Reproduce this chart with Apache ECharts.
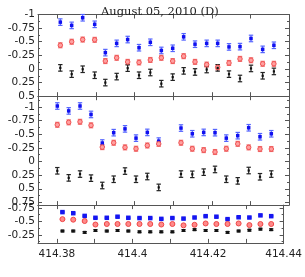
<!DOCTYPE html>
<html><head><meta charset="utf-8">
<script src="https://cdn.jsdelivr.net/npm/echarts@6/dist/echarts.min.js"></script>
<style>html,body{margin:0;padding:0;background:#fff}#c{width:305px;height:277px}</style>
</head><body><div id="c"></div>
<script>
// ---- data ----
const titleText = 'August 05, 2010 (D)';
const xTickValues = [414.38, 414.39, 414.40, 414.41, 414.42, 414.43, 414.44];
const xLabelValues = [414.38, 414.40, 414.42, 414.44];

// panel 1
const p1X = [414.38078,414.38372,414.38657,414.38968,414.39244,414.39537,414.39822,414.40116,414.40409,414.40694,414.40988,414.41272,414.41566,414.41868,414.42153,414.42446,414.42731,414.43016,414.43318,414.43609];
const p1Blue = [-0.86,-0.80,-0.94,-0.82,-0.30,-0.47,-0.54,-0.39,-0.49,-0.34,-0.38,-0.59,-0.455,-0.47,-0.47,-0.405,-0.41,-0.56,-0.36,-0.435];
const p1Red = [-0.435,-0.50,-0.54,-0.535,-0.145,-0.205,-0.13,-0.12,-0.165,-0.205,-0.145,-0.235,-0.13,-0.08,-0.03,-0.11,-0.185,-0.16,-0.095,-0.095];
const p1Black = [-0.02,0.095,0.005,0.115,0.25,0.14,-0.015,0.115,0.065,0.27,0.15,0.035,0.055,0.01,-0.02,0.095,0.175,-0.01,0.125,0.045];
// panel 2
const p2X = [414.38000,414.38295,414.38588,414.38873,414.39165,414.39460,414.39753,414.40038,414.40331,414.40626,414.41203,414.41496,414.41791,414.42084,414.42376,414.42672,414.42956,414.43249,414.43542];
const p2Blue = [-1.02,-0.93,-1.02,-0.865,-0.34,-0.53,-0.60,-0.43,-0.535,-0.375,-0.615,-0.51,-0.535,-0.53,-0.43,-0.475,-0.62,-0.455,-0.51];
const p2Red = [-0.675,-0.72,-0.73,-0.665,-0.265,-0.345,-0.26,-0.235,-0.295,-0.325,-0.345,-0.235,-0.21,-0.175,-0.235,-0.325,-0.26,-0.23,-0.23];
const p2Black = [0.17,0.30,0.23,0.305,0.44,0.325,0.175,0.325,0.275,0.475,0.23,0.235,0.195,0.145,0.325,0.355,0.165,0.28,0.23];
// panel 3
const p3X = [414.38147,414.38432,414.38735,414.39020,414.39321,414.39605,414.39890,414.40186,414.40470,414.40763,414.41056,414.41351,414.41643,414.41936,414.42221,414.42516,414.42809,414.43094,414.43386,414.43671];
const p3Blue = [-0.67,-0.65,-0.60,-0.565,-0.565,-0.585,-0.565,-0.56,-0.56,-0.545,-0.56,-0.55,-0.57,-0.595,-0.585,-0.54,-0.575,-0.57,-0.61,-0.595];
const p3Red = [-0.54,-0.53,-0.505,-0.44,-0.45,-0.45,-0.45,-0.45,-0.45,-0.44,-0.45,-0.425,-0.435,-0.46,-0.45,-0.45,-0.46,-0.43,-0.45,-0.45];
const p3Black = [-0.32,-0.32,-0.295,-0.33,-0.32,-0.33,-0.32,-0.305,-0.305,-0.305,-0.305,-0.33,-0.345,-0.33,-0.33,-0.295,-0.32,-0.335,-0.355,-0.345];
// error sizes (blue, red, black) per panel
const p1Err = [0.06, 0.045, 0.06];
const p2Err = [0.06, 0.045, 0.06];
const p3Err = [0.012, 0.012, 0.015];

// y-axis definitions
const p1YRange = [-1, 0.5];
const p1YLabels = [-1,-0.75,-0.5,-0.25,0,0.25,0.5];
const p1YMinor = [-0.875,-0.625,-0.375,-0.125,0.125,0.375];
const p2YRange = [-1.2, 0.8];
const p2YLabels = [-1,-0.75,-0.5,-0.25,0,0.25,0.5,0.75];
const p2YMinor = [-1.125,-0.875,-0.625,-0.375,-0.125,0.125,0.375,0.625];
const p3YRange = [-0.8, -0.1];
const p3YLabels = [-0.75,-0.5,-0.25];
const p3YMinor = [-0.625,-0.375,-0.125];

// ---- layout / style ----
const FONT = 'DejaVu Sans';
const frame = '#555';
const LEFT = 38, RIGHT = 16;
const grids = [
  {top: 14.5, height: 81.7},
  {top: 96.2, height: 108.9},
  {top: 205.1, height: 37.8}
];
const panels = [
  {x: p1X, s: [p1Blue, p1Red, p1Black], err: p1Err, yr: p1YRange, yl: p1YLabels, ym: p1YMinor},
  {x: p2X, s: [p2Blue, p2Red, p2Black], err: p2Err, yr: p2YRange, yl: p2YLabels, ym: p2YMinor},
  {x: p3X, s: [p3Blue, p3Red, p3Black], err: p3Err, yr: p3YRange, yl: p3YLabels, ym: p3YMinor}
];
const styles = [
  {sym: 'rect', size: 3.5, fill: '#1010f0', stroke: '#1010f0', bar: '#5565ff'},
  {sym: 'circle', size: 4.5, fill: '#ffa0a0', stroke: '#f05050', bar: '#f07070'},
  {sym: 'rect', size: 2.2, fill: '#111', stroke: '#111', bar: '#222'}
];
const styles3 = [
  {sym: 'rect', size: 4.5, fill: '#1515f0', stroke: '#1515f0', bar: '#5565ff'},
  {sym: 'circle', size: 5, fill: '#ff8a8a', stroke: '#f04848', bar: '#f07070'},
  {sym: 'rect', size: 3, fill: '#111', stroke: '#111', bar: '#222'}
];

const fmtX = v => String(parseFloat(v.toFixed(2)));
const fmtY = v => String(parseFloat(v.toFixed(2)));

const gridOpt = [], xAxes = [], yAxes = [], series = [];
panels.forEach((p, i) => {
  const g = grids[i];
  gridOpt.push({left: LEFT, right: RIGHT, top: g.top, height: g.height, containLabel: false});
  ['bottom', 'top'].forEach(pos => {
    xAxes.push({
      type: 'value', gridIndex: i, position: pos, min: 414.375, max: 414.44,
      axisLine: {show: true, onZero: false, lineStyle: {color: frame, width: 1}},
      axisTick: {show: true, inside: true, length: 4, customValues: xTickValues, lineStyle: {color: frame}},
      axisLabel: {show: (i === 2 && pos === 'bottom'), customValues: xLabelValues, formatter: fmtX,
        fontFamily: FONT, fontSize: 10.5, color: '#222', margin: 6},
      splitLine: {show: false}
    });
  });
  ['left', 'right'].forEach(pos => {
    yAxes.push({
      type: 'value', gridIndex: i, position: pos, inverse: true, min: p.yr[0], max: p.yr[1],
      axisLine: {show: true, onZero: false, lineStyle: {color: frame, width: 1}},
      axisTick: {show: true, inside: true, length: 4, customValues: p.yl, lineStyle: {color: frame}},
      axisLabel: {show: pos === 'left', customValues: p.yl, formatter: fmtY,
        fontFamily: FONT, fontSize: 10.5, color: '#222', margin: 3},
      splitLine: {show: false}
    });
  });
  ['left', 'right'].forEach(pos => {
    yAxes.push({
      type: 'value', gridIndex: i, position: pos, inverse: true, min: p.yr[0], max: p.yr[1],
      axisLine: {show: false, onZero: false},
      axisTick: {show: true, inside: true, length: 2, customValues: p.ym, lineStyle: {color: frame}},
      axisLabel: {show: false},
      splitLine: {show: false}
    });
  });
  const st = i === 2 ? styles3 : styles;
  p.s.forEach((vals, k) => {
    const e = p.err[k];
    const data = vals.map((v, j) => [p.x[j], v, e]);
    const sty = st[k];
    series.push({
      type: 'custom', coordinateSystem: 'cartesian2d', xAxisIndex: 2 * i, yAxisIndex: 4 * i,
      silent: true, z: 2, data: data, encode: {x: 0, y: 1},
      renderItem: (params, api) => {
        const x = api.value(0), y = api.value(1), er = api.value(2);
        const a = api.coord([x, y - er]), b = api.coord([x, y + er]);
        const cw = 2.2;
        const ls = {stroke: sty.bar, lineWidth: 1.2};
        return {type: 'group', children: [
          {type: 'line', shape: {x1: a[0], y1: a[1], x2: b[0], y2: b[1]}, style: ls},
          {type: 'line', shape: {x1: a[0] - cw, y1: a[1], x2: a[0] + cw, y2: a[1]}, style: ls},
          {type: 'line', shape: {x1: b[0] - cw, y1: b[1], x2: b[0] + cw, y2: b[1]}, style: ls}
        ]};
      }
    });
    series.push({
      type: 'scatter', xAxisIndex: 2 * i, yAxisIndex: 4 * i, silent: true, z: 3,
      symbol: sty.sym, symbolSize: sty.size,
      itemStyle: {color: sty.fill, borderColor: sty.stroke, borderWidth: k === 1 ? 1 : 0, opacity: 1},
      data: vals.map((v, j) => [p.x[j], v])
    });
  });
});

const chart = echarts.init(document.getElementById('c'), null, {renderer: 'canvas'});
chart.setOption({
  animation: false,
  backgroundColor: '#fff',
  title: {text: titleText, left: 96, top: 1,
    textStyle: {fontFamily: 'DejaVu Serif', fontSize: 11.5, fontWeight: 'normal', color: '#222'}},
  grid: gridOpt, xAxis: xAxes, yAxis: yAxes, series: series
});
</script></body></html>
